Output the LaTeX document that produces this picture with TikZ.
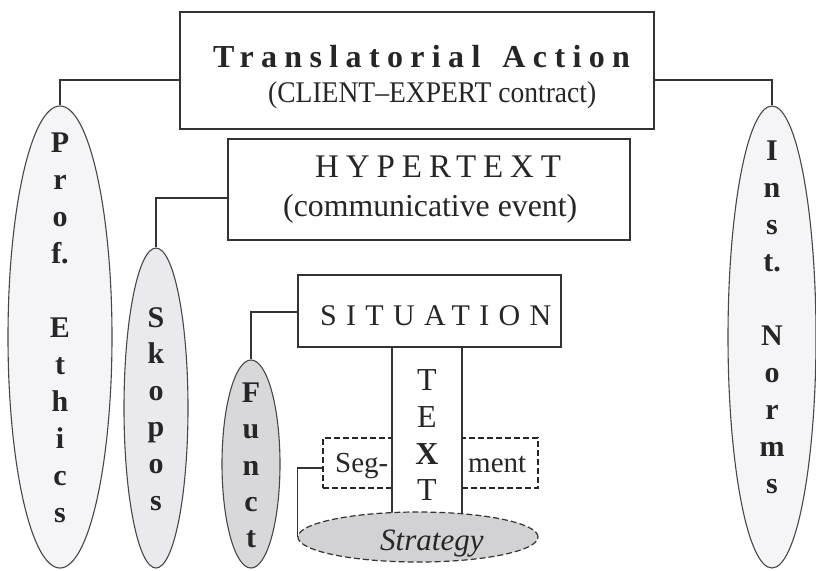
\documentclass[tikz,border=0pt]{standalone}
\usepackage{fontspec}
\usepackage{graphicx}
\setmainfont{Liberation Serif}
\usetikzlibrary{shapes.geometric,calc}

\definecolor{ink}{HTML}{333333}
\definecolor{paleA}{HTML}{F5F5F8}
\definecolor{paleB}{HTML}{EAEAEE}
\definecolor{greyC}{HTML}{D8D8DA}
\definecolor{greyD}{HTML}{D2D2D4}

\begin{document}
\begin{tikzpicture}[x=1pt,y=-1pt,
  box/.style={rectangle,draw=ink,line width=1.6pt,fill=white,inner sep=0pt},
  pillar/.style={ellipse,draw=ink!90,line width=1.1pt,inner sep=0pt},
  link/.style={draw=ink,line width=1.5pt},
  segbox/.style={rectangle,draw=black!85,line width=1.8pt,dash pattern=on 6pt off 3pt,inner sep=0pt},
  lbl/.style={anchor=base west,inner sep=0pt,text=black!85},
  vletter/.style={anchor=base,inner sep=0pt,text=black!85,font=\fontsize{30}{30}\selectfont\bfseries},
  tletter/.style={anchor=base,inner sep=0pt,text=black!85,font=\fontsize{32}{32}\selectfont}
]
\useasboundingbox (0,0) rectangle (816,570);

% side pillars
\node[pillar,fill=paleA,minimum width=104pt,minimum height=462pt] (prof) at (60,337) {};
\node[pillar,fill=paleA,minimum width=88pt,minimum height=462pt] (inst) at (772,337) {};
\node[pillar,fill=paleB,minimum width=64pt,minimum height=320pt] (skopos) at (156,408) {};
\node[pillar,fill=greyC,minimum width=58pt,minimum height=208pt] (funct) at (251,464) {};

% nested boxes
\node[box,minimum width=474pt,minimum height=117pt] (ta) at (417,70.5) {};
\node[box,minimum width=402pt,minimum height=101pt] (ht) at (429,189.5) {};
\node[box,minimum width=263pt,minimum height=72pt] (sit) at (429.5,311) {};

% segment boxes and the TEXT column
\node[segbox,minimum width=69pt,minimum height=50pt] (seg) at (357.5,463) {};
\node[segbox,minimum width=76pt,minimum height=50pt] (ment) at (500,463) {};
\node[inner sep=0pt,minimum width=70pt,minimum height=166pt] (textcol) at (427,430) {};
\draw[link] (textcol.north west) -- (textcol.south west)
            (textcol.north east) -- (textcol.south east);

% strategy ellipse
\node[ellipse,draw=ink,line width=1.2pt,dash pattern=on 6pt off 3pt,fill=greyD,
      minimum width=240pt,minimum height=50pt,inner sep=0pt] (strat) at (418,537) {};

% connectors
\draw[link] ($(ta.west)+(0,9.5)$) -| (prof.north);
\draw[link] ($(ta.east)+(0,9.5)$) -| (inst.north);
\draw[link] ($(ht.west)+(0,8.5)$) -| (skopos.north);
\draw[link] ($(sit.west)+(0,1)$) -| (funct.north);
\draw[link] ($(seg.west)+(0,5)$) -| (strat.west);

% box labels
\node[lbl,font=\fontsize{32}{36}\selectfont\bfseries\addfontfeature{LetterSpace=23}] (taTitle) at (213,67) {Translatorial\hspace{22pt}Action};
\node[lbl,font=\fontsize{30}{34}\selectfont] (taSub) at (268,102) {\resizebox{328pt}{\height}{(CLIENT--EXPERT contract)}};
\node[lbl,font=\fontsize{33}{36}\selectfont\addfontfeature{LetterSpace=21}] (htTitle) at (315,177) {HYPERTEXT};
\node[lbl,font=\fontsize{32}{36}\selectfont] (htSub) at (283,216) {\resizebox{294pt}{\height}{(communicative event)}};
\node[lbl,font=\fontsize{30}{34}\selectfont\addfontfeature{LetterSpace=31}] (sitTitle) at (320,325) {SITUATION};
\node[lbl,font=\fontsize{29}{32}\selectfont] (segText) at (335,472) {Seg-};
\node[lbl,font=\fontsize{29}{32}\selectfont] (mentText) at (468,472) {ment};
\node[lbl,font=\fontsize{31}{34}\selectfont\itshape] (stratText) at (380,550) {Strategy};

% vertical lettering
\foreach \c/\y [count=\i] in {P/152,r/189,o/226,f./263,E/337,t/374,h/411,i/448,c/485,s/522}
  \node[vletter] (profL\i) at (60,\y) {\c};
\foreach \c/\y [count=\i] in {I/160,n/197,s/234,t./271,N/345,o/382,r/419,m/456,s/493}
  \node[vletter] (instL\i) at (772,\y) {\c};
\foreach \c/\y [count=\i] in {S/327,k/363.6,o/400,p/436.6,o/473,s/510}
  \node[vletter] (skoposL\i) at (156,\y) {\c};
\foreach \c/\y [count=\i] in {F/402,u/438,n/475,c/511,t/547}
  \node[vletter] (functL\i) at (251,\y) {\c};
\node[tletter] (textL1) at (427,390) {T};
\node[tletter] (textL2) at (427,427) {E};
\node[tletter,font=\fontsize{32}{32}\selectfont\bfseries] (textL3) at (427,464) {X};
\node[tletter] (textL4) at (427,500) {T};
\end{tikzpicture}
\end{document}
